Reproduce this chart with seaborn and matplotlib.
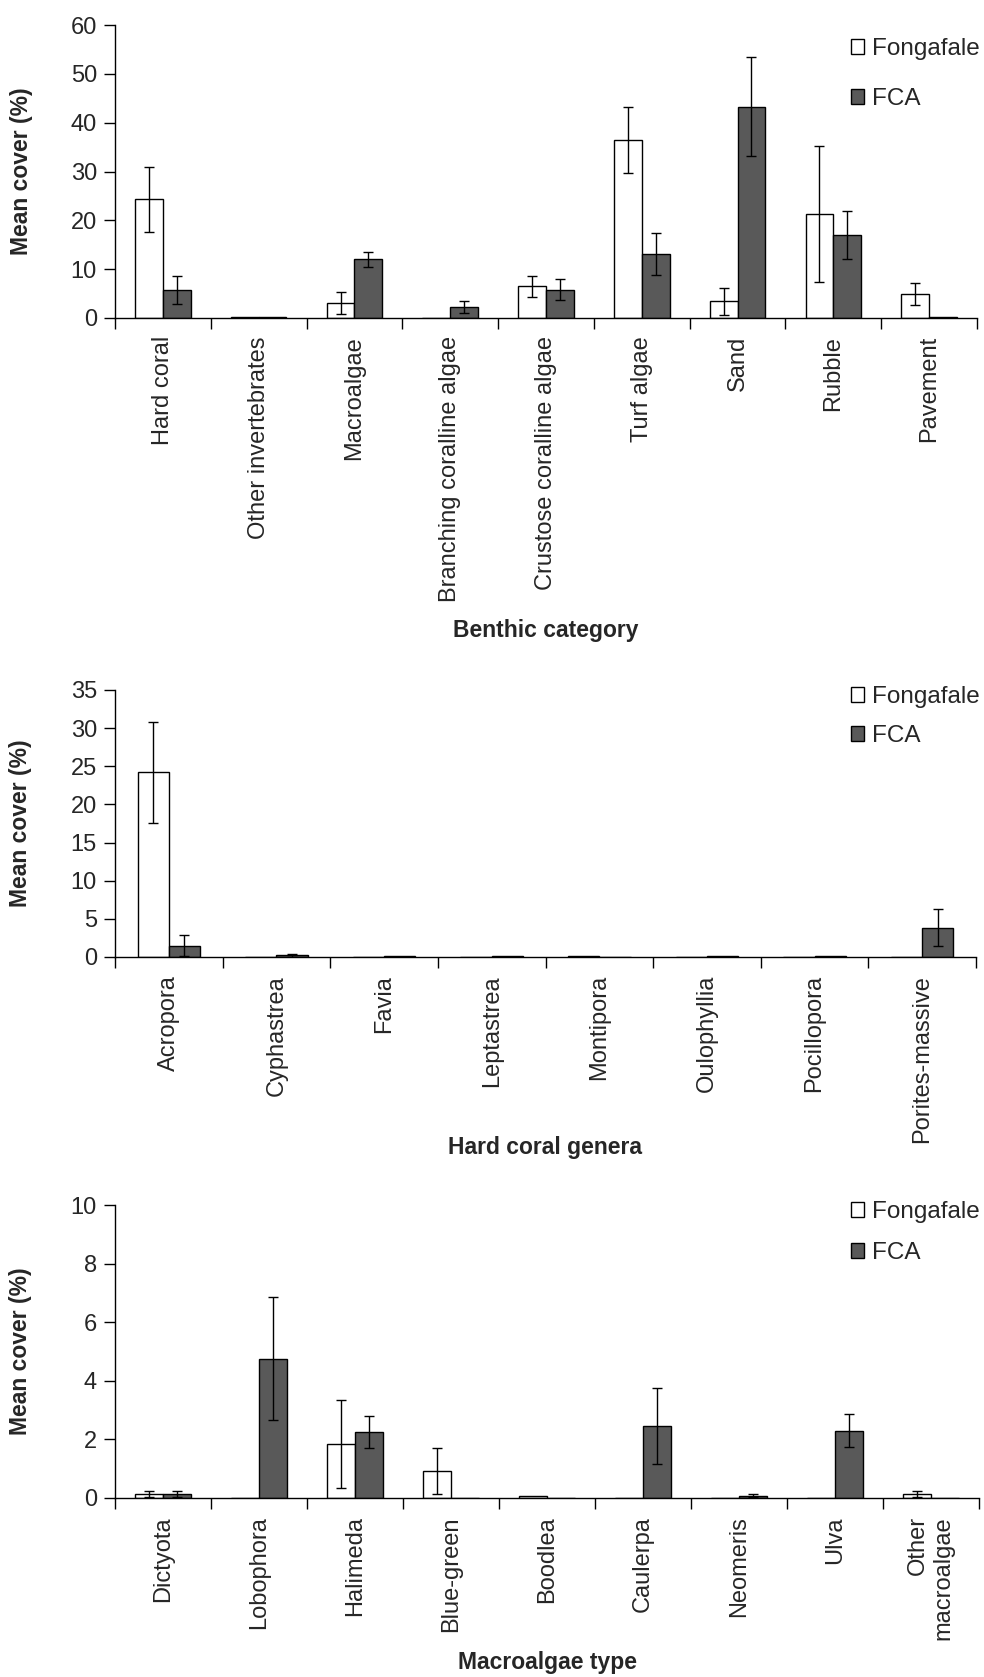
import numpy as np
import pandas as pd
import matplotlib
matplotlib.use("Agg")
import matplotlib.pyplot as plt
import seaborn as sns

W, H = 984, 1677
SITES = ["Fongafale", "FCA"]
COLORS = {"Fongafale": "white", "FCA": "#595959"}

# ── Benthic category
benthic_cats = ["Hard coral", "Other invertebrates", "Macroalgae",
                "Branching coralline algae", "Crustose coralline algae",
                "Turf algae", "Sand", "Rubble", "Pavement"]
benthic_fong = [24.3, 0.2, 3.1, 0.0, 6.5, 36.4, 3.4, 21.3, 4.9]
benthic_fong_se = [6.7, 0.0, 2.2, 0.0, 2.1, 6.8, 2.8, 14.0, 2.2]
benthic_fca = [5.8, 0.2, 12.0, 2.2, 5.8, 13.2, 43.3, 17.0, 0.2]
benthic_fca_se = [2.9, 0.0, 1.6, 1.2, 2.1, 4.3, 10.2, 4.9, 0.0]

# ── Hard coral genera
coral_cats = ["Acropora", "Cyphastrea", "Favia", "Leptastrea", "Montipora",
              "Oulophyllia", "Pocillopora", "Porites-massive"]
coral_fong = [24.2, 0.0, 0.0, 0.0, 0.1, 0.0, 0.0, 0.0]
coral_fong_se = [6.6, 0.0, 0.0, 0.0, 0.0, 0.0, 0.0, 0.0]
coral_fca = [1.5, 0.2, 0.1, 0.1, 0.0, 0.1, 0.1, 3.85]
coral_fca_se = [1.4, 0.15, 0.0, 0.0, 0.0, 0.0, 0.0, 2.4]

# ── Macroalgae type
algae_cats = ["Dictyota", "Lobophora", "Halimeda", "Blue-green", "Boodlea",
              "Caulerpa", "Neomeris", "Ulva", "Other\nmacroalgae"]
algae_fong = [0.15, 0.0, 1.85, 0.92, 0.08, 0.0, 0.0, 0.0, 0.15]
algae_fong_se = [0.1, 0.0, 1.5, 0.77, 0.0, 0.0, 0.0, 0.0, 0.1]
algae_fca = [0.15, 4.75, 2.25, 0.0, 0.0, 2.45, 0.08, 2.3, 0.0]
algae_fca_se = [0.1, 2.1, 0.55, 0.0, 0.0, 1.3, 0.05, 0.55, 0.0]

sns.set_style("ticks")
plt.rcParams["font.family"] = ["Liberation Sans", "DejaVu Sans"]
FS = 17


def draw_panel(fig, px, cats, fong, fong_se, fca, fca_se, ymax, ystep,
               xlabel, xlabel_px, legend_px, spacing):
    left, right, top, bottom = px
    ax = fig.add_axes([left / W, 1 - bottom / H, (right - left) / W, (bottom - top) / H])
    df = pd.DataFrame({
        "category": list(cats) * 2,
        "site": ["Fongafale"] * len(cats) + ["FCA"] * len(cats),
        "cover": list(fong) + list(fca),
    })
    sns.barplot(data=df, x="category", y="cover", hue="site", hue_order=SITES,
                palette=COLORS, width=0.58, edgecolor="black", linewidth=1.0,
                errorbar=None, ax=ax)

    # error bars from the bar centres
    for cont, errs in zip(ax.containers, [fong_se, fca_se]):
        for bar, e in zip(cont, errs):
            if e > 0:
                ax.errorbar(bar.get_x() + bar.get_width() / 2, bar.get_height(), yerr=e,
                            fmt="none", ecolor="black", elinewidth=1.0,
                            capsize=3.6, capthick=1.0)

    n = len(cats)
    ax.set_xlim(-0.5, n - 0.5)
    ax.set_ylim(0, ymax)
    ax.set_yticks(np.arange(0, ymax + 0.01, ystep))
    ax.set_xticks(np.arange(-0.5, n, 1.0), minor=True)
    ax.tick_params(axis="x", which="major", length=0, pad=13, labelsize=FS, rotation=90)
    ax.tick_params(axis="x", which="minor", length=8, width=1.0, color="black")
    ax.tick_params(axis="y", length=8, width=1.0, color="black", pad=5, labelsize=FS)
    for lab in ax.get_xticklabels():
        lab.set_multialignment("right")

    sns.despine(ax=ax)
    for s in ("left", "bottom"):
        ax.spines[s].set_color("black")
        ax.spines[s].set_linewidth(1.0)

    ax.set_ylabel("Mean cover (%)", fontsize=FS - 0.5, fontweight="bold")
    ax.yaxis.label.set_va("center")
    ax.yaxis.set_label_coords((21 - left) / (right - left), 0.5)
    ax.set_xlabel(xlabel, fontsize=FS - 0.5, fontweight="bold")
    ax.xaxis.set_label_coords(0.5, (bottom - xlabel_px) / (bottom - top))
    ax.xaxis.label.set_va("center")

    handles, labels = ax.get_legend_handles_labels()
    ax.legend(handles, labels, loc="upper left",
              bbox_to_anchor=(851 / W, 1 - legend_px / H), bbox_transform=fig.transFigure,
              frameon=False, fontsize=FS + 0.5, handlelength=0.55, handleheight=0.55,
              handletextpad=0.3, labelspacing=spacing, borderpad=0, borderaxespad=0)
    return ax


fig = plt.figure(figsize=(W / 100, H / 100), dpi=100)

draw_panel(fig, (115, 977, 25, 318), benthic_cats, benthic_fong, benthic_fong_se,
           benthic_fca, benthic_fca_se, 60, 10, "Benthic category", 630, 38, 1.15)
draw_panel(fig, (115, 976, 690, 957), coral_cats, coral_fong, coral_fong_se,
           coral_fca, coral_fca_se, 35, 5, "Hard coral genera", 1148, 686, 0.7)
draw_panel(fig, (115, 979, 1205, 1498), algae_cats, algae_fong, algae_fong_se,
           algae_fca, algae_fca_se, 10, 2, "Macroalgae type", 1663, 1201, 0.78)

fig.savefig("out.png", dpi=100)
